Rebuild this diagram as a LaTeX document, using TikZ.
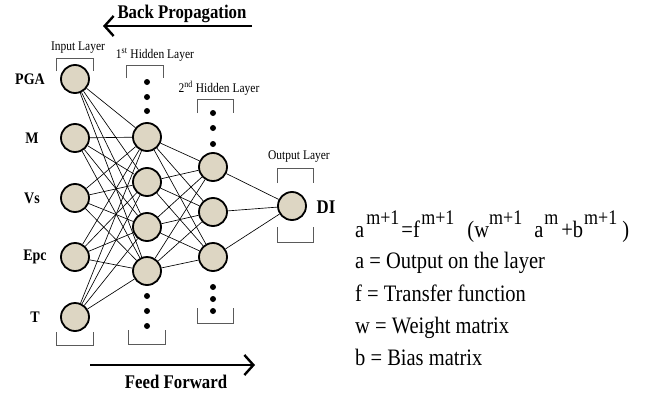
\documentclass[tikz,border=0pt]{standalone}
\usepackage{fontspec}
\usepackage{graphicx}
\setmainfont{Liberation Serif}
\usetikzlibrary{arrows.meta}
\definecolor{neuronfill}{RGB}{221,214,195}
\definecolor{bracketgray}{RGB}{90,90,90}
% slightly tall lettering
\newcommand\tallish[1]{\scalebox{1}[1.15]{#1}}
\newcommand\supr[1]{\raisebox{0.55em}{\fontsize{18}{18}\selectfont #1}}
\newcommand\hs[1]{\hspace*{#1pt}}
\begin{document}
\begin{tikzpicture}[x=1pt,y=-1pt,
  neuron/.style={circle,draw=black,line width=1.8pt,fill=neuronfill,minimum size=28pt,inner sep=0pt},
  link/.style={line width=0.65pt},
  dotmark/.style={circle,fill=black,minimum size=6pt,inner sep=0pt},
  bracket/.style={draw=bracketgray,line width=0.9pt},
  inlabel/.style={font=\fontsize{14}{14}\selectfont\bfseries,inner sep=0pt},
  laylabel/.style={font=\fontsize{11.5}{12}\selectfont,inner sep=0pt},
  biglabel/.style={font=\fontsize{16.8}{17}\selectfont\bfseries,inner sep=0pt},
  eqline/.style={font=\fontsize{20.5}{22}\selectfont,anchor=base west,inner sep=0pt},
  flowarrow/.style={line width=2.4pt,-{Straight Barb[length=9pt,width=20pt,line width=2.4pt]}}
]
\useasboundingbox (0,0) rectangle (649,394);

% input layer
\node[neuron] (in1) at (75,79) {};
\node[neuron] (in2) at (75,138) {};
\node[neuron] (in3) at (75,198) {};
\node[neuron] (in4) at (75,257) {};
\node[neuron] (in5) at (75,317) {};
% first hidden layer
\node[neuron] (ha1) at (147,137) {};
\node[neuron] (ha2) at (147,182) {};
\node[neuron] (ha3) at (147,227) {};
\node[neuron] (ha4) at (147,271) {};
% second hidden layer
\node[neuron] (hb1) at (213,167) {};
\node[neuron] (hb2) at (213,212) {};
\node[neuron] (hb3) at (213,257) {};
% output layer
\node[neuron] (out) at (292,206) {};

% connections
\foreach \i in {1,...,5}
  \foreach \j in {1,...,4}
    \draw[link] (in\i) -- (ha\j);
\foreach \i in {1,...,4}
  \foreach \j in {1,...,3}
    \draw[link] (ha\i) -- (hb\j);
\foreach \j in {1,...,3}
  \draw[link] (hb\j) -- (out);

% ellipsis dots
\node[dotmark] (da1) at (147,82) {};
\node[dotmark] (da2) at (147,97) {};
\node[dotmark] (da3) at (147,111) {};
\node[dotmark] (da4) at (147,296) {};
\node[dotmark] (da5) at (147,311) {};
\node[dotmark] (da6) at (147,326) {};
\node[dotmark] (db1) at (213,113) {};
\node[dotmark] (db2) at (213,128) {};
\node[dotmark] (db3) at (213,144) {};
\node[dotmark] (db4) at (213,287) {};
\node[dotmark] (db5) at (213,299) {};
\node[dotmark] (db6) at (213,311) {};

% layer brackets
\draw[bracket] (56,71) -- (56,58) -- (93,58) -- (93,71);
\draw[bracket] (56,332) -- (56,345) -- (93,345) -- (93,332);
\draw[bracket] (126,78) -- (126,65) -- (163,65) -- (163,78);
\draw[bracket] (128,330) -- (128,344) -- (165,344) -- (165,330);
\draw[bracket] (197,113) -- (197,99) -- (233,99) -- (233,113);
\draw[bracket] (197,308) -- (197,323) -- (233,323) -- (233,308);
\draw[bracket] (277,183) -- (277,168) -- (313,168) -- (313,183);
\draw[bracket] (277,227) -- (277,242) -- (313,242) -- (313,227);

% layer titles
\node[laylabel] (tin) at (78,48) {\tallish{Input Layer}};
\node[laylabel] (tha) at (155,55) {\tallish{1\textsuperscript{st} Hidden Layer}};
\node[laylabel] (thb) at (219,88) {\tallish{2\textsuperscript{nd} Hidden Layer}};
\node[laylabel] (tout) at (299,157) {\tallish{Output Layer}};

% input and output names
\node[inlabel] (lpga) at (30,79) {\tallish{PGA}};
\node[inlabel] (lm) at (32,138) {\tallish{M}};
\node[inlabel] (lvs) at (32,198) {\tallish{Vs}};
\node[inlabel] (lepc) at (35,257) {\tallish{Epc}};
\node[inlabel] (lt) at (35,317) {\tallish{T}};
\node[biglabel] (ldi) at (326,207) {\tallish{DI}};

% training directions
\node[biglabel] (bp) at (182,14) {\tallish{Back Propagation}};
\coordinate (bpstart) at (252,26);
\coordinate (bpend) at (103,26);
\draw[flowarrow] (bpstart) -- (bpend);
\node[biglabel] (ff) at (176,382) {\tallish{Feed Forward}};
\coordinate (ffstart) at (90,365);
\coordinate (ffend) at (255,365);
\draw[flowarrow] (ffstart) -- (ffend);

% layer equation and legend
\node[eqline] (eq) at (355,237) {\tallish{a\hs{2}\supr{m+1}\hs{2}=f\hs{1.5}\supr{m+1}\hs{13}(w\supr{m+1}\hs{12}a\hs{1}\supr{m}\hs{3}+b\hs{1}\supr{m+1}\hs{5})}};
\node[eqline] (ea) at (355,268) {\tallish{a = Output on the layer}};
\node[eqline] (ef) at (355,301) {\tallish{f = Transfer function}};
\node[eqline] (ew) at (355,333) {\tallish{w = Weight matrix}};
\node[eqline] (eb) at (355,365) {\tallish{b = Bias matrix}};
\end{tikzpicture}
\end{document}
